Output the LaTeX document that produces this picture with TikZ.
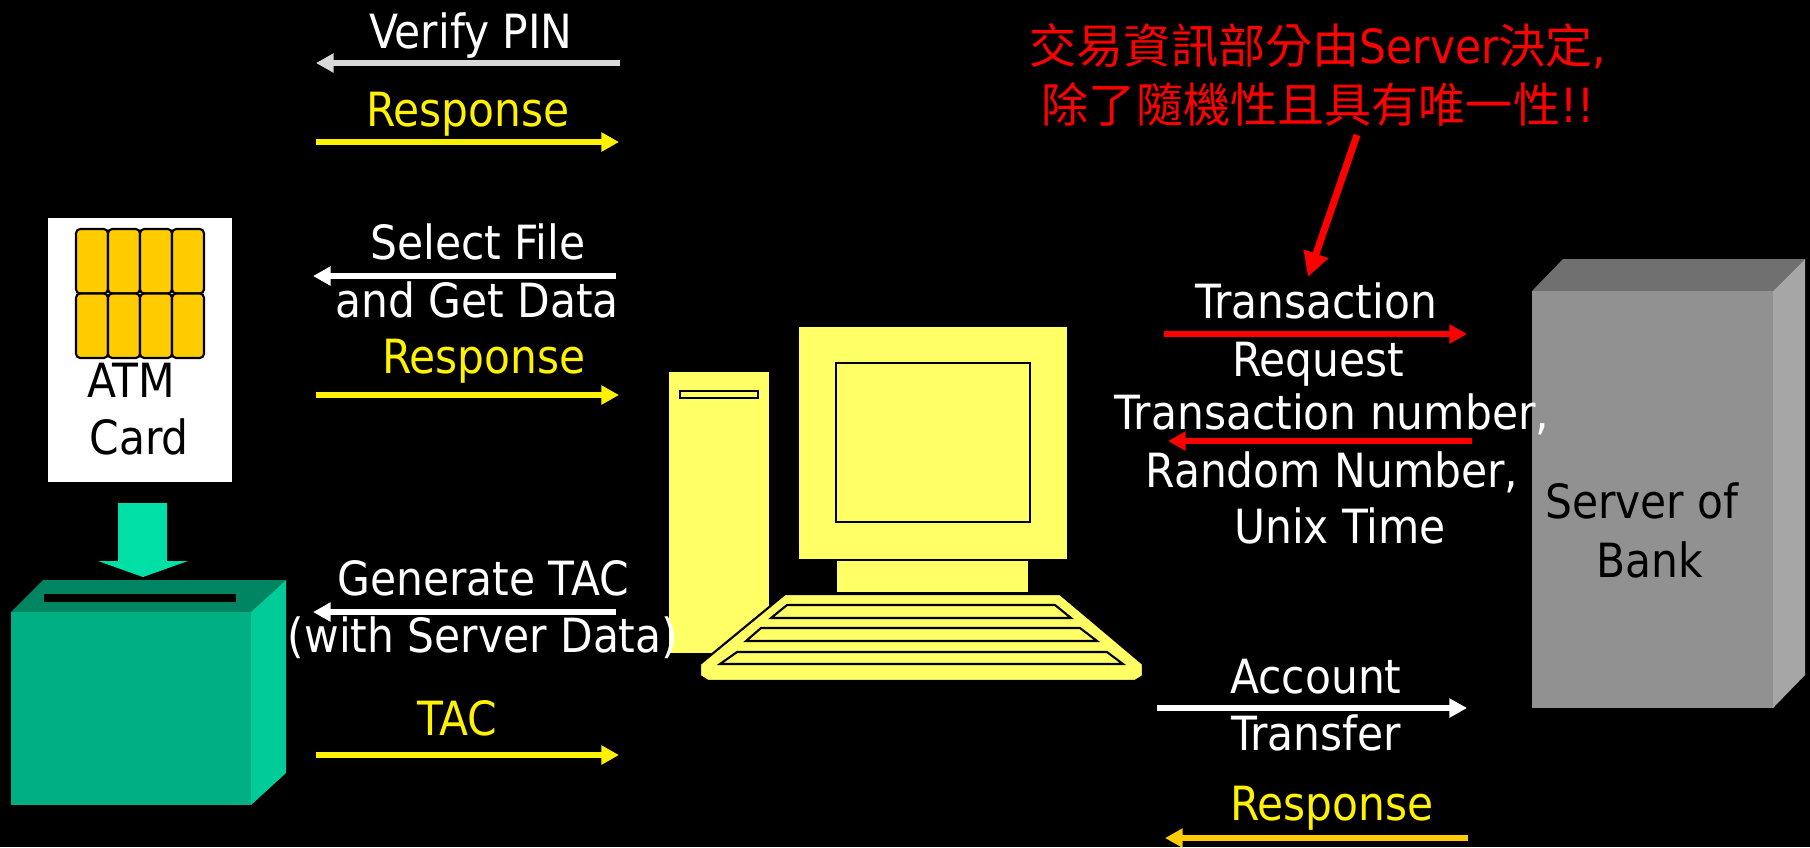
\documentclass[tikz,border=0pt]{standalone}
\usepackage{fontspec}
\setmainfont{DejaVu Sans Condensed}
\newfontfamily\cjk{Noto Sans CJK TC}
\usetikzlibrary{arrows.meta}

\definecolor{chipgold}{RGB}{255,204,0}
\definecolor{pcyellow}{RGB}{255,255,102}
\definecolor{atmfront}{RGB}{0,175,130}
\definecolor{atmtop}{RGB}{0,133,98}
\definecolor{atmside}{RGB}{0,204,153}
\definecolor{insert}{RGB}{0,224,166}
\definecolor{srvfront}{RGB}{145,145,145}
\definecolor{srvtop}{RGB}{112,112,112}
\definecolor{srvside}{RGB}{166,166,166}
\definecolor{pingray}{RGB}{217,217,217}
\definecolor{respgold}{RGB}{255,204,0}

\begin{document}
\begin{tikzpicture}[x=0.01cm,y=-0.01cm,
		lbl/.style={font=\fontsize{13.4}{16.4}\selectfont,text=white,inner sep=0pt,anchor=base},
		flow/.style={line width=1.7pt,-{Triangle[length=5pt,width=5.2pt]}},
		outl/.style={draw=black,line width=0.6pt,fill=pcyellow}]
	\useasboundingbox (0,0) rectangle (1810,847);
	\fill[black] (0,0) rectangle (1810,847);

	% card with its chip
	\fill[white] (48,218) rectangle (232,482);
	\foreach \c in {0,...,3}
		\foreach \r in {0,1}
			\draw[fill=chipgold,line width=0.6pt,rounded corners=1.2pt] ({76+32*\c},{229+64.5*\r}) rectangle ++(32,64.5);

	% card goes into the reader
	\fill[insert] (118,503) -- (167,503) -- (167,561) -- (188,561) -- (143,577) -- (98,561) -- (118,561) -- cycle;
	\fill[atmtop] (11,612) -- (43,580) -- (286,580) -- (251,612) -- cycle;
	\fill[atmside] (251,612) -- (286,580) -- (286,773) -- (251,805) -- cycle;
	\fill[atmfront] (11,612) rectangle (251,805);
	\fill[black] (44,594) rectangle (236,602);

	% terminal
	\fill[pcyellow] (669,372) rectangle (769,653);
	\draw[outl] (680,391) rectangle (758,398);
	\fill[pcyellow] (799,327) rectangle (1067,559);
	\draw[outl] (836,363) rectangle (1030,522);
	\fill[pcyellow] (837,561) rectangle (1028,592);
	\draw[outl] (785,594) -- (1060,594) -- (1143,664) -- (1143,676) -- (1135,681) -- (708,681) -- (700,676) -- (700,664) -- cycle;
	\draw[outl] (787,605) -- (1055,605) -- (1071,618) -- (771,618) -- cycle;
	\draw[outl] (761,628) -- (1080,628) -- (1097,641) -- (746,641) -- cycle;
	\draw[outl] (737,652) -- (1107,652) -- (1123,664) -- (720,664) -- cycle;

	% bank server
	\fill[srvtop] (1532,291) -- (1563,259) -- (1805,259) -- (1773,291) -- cycle;
	\fill[srvside] (1773,291) -- (1805,259) -- (1805,675) -- (1773,708) -- cycle;
	\fill[srvfront] (1532,291) rectangle (1773,708);

	% arrow ends
	\coordinate (pinR) at (620,63);		\coordinate (pinL) at (316,63);
	\coordinate (rsp1L) at (316,142);	\coordinate (rsp1R) at (619,142);
	\coordinate (selR) at (616,276);	\coordinate (selL) at (313,276);
	\coordinate (rsp2L) at (316,395);	\coordinate (rsp2R) at (619,395);
	\coordinate (genR) at (616,612);	\coordinate (genL) at (313,612);
	\coordinate (tacL) at (316,755);	\coordinate (tacR) at (619,755);
	\coordinate (reqL) at (1164,334);	\coordinate (reqR) at (1467,334);
	\coordinate (numR) at (1472,441);	\coordinate (numL) at (1168,441);
	\coordinate (accL) at (1157,708);	\coordinate (accR) at (1467,708);
	\coordinate (rsp3R) at (1468,838);	\coordinate (rsp3L) at (1165,838);
	\coordinate (noteT) at (1357,135);	\coordinate (noteH) at (1308,277);

	\draw[flow,pingray] (pinR) -- (pinL);
	\draw[flow,yellow] (rsp1L) -- (rsp1R);
	\draw[flow,white] (selR) -- (selL);
	\draw[flow,yellow] (rsp2L) -- (rsp2R);
	\draw[flow,white] (genR) -- (genL);
	\draw[flow,yellow] (tacL) -- (tacR);
	\draw[flow,red] (reqL) -- (reqR);
	\draw[flow,red] (numR) -- (numL);
	\draw[flow,white] (accL) -- (accR);
	\draw[flow,respgold] (rsp3R) -- (rsp3L);
	\draw[red,line width=2pt,-{Triangle[length=7pt,width=7pt]}] (noteT) -- (noteH);

	% labels
	\node[lbl,text=black] (atm) at (131,397) {ATM};
	\node[lbl,text=black] (card) at (139,454) {Card};
	\node[lbl,text=black] (srv1) at (1642,518) {Server of};
	\node[lbl,text=black] (srv2) at (1650,577) {Bank};

	\node[lbl] (vpin) at (471,48) {Verify PIN};
	\node[lbl,text=yellow] (rsp1) at (468,126) {Response};
	\node[lbl] (sel1) at (478,259) {Select File};
	\node[lbl] (sel2) at (477,317) {and Get Data};
	\node[lbl,text=yellow] (rsp2) at (484,373) {Response};
	\node[lbl] (gen1) at (483,595) {Generate TAC};
	\node[lbl] (gen2) at (483,652) {(with Server Data)};
	\node[lbl,text=yellow] (tac) at (457,735) {TAC};

	\node[lbl] (req1) at (1316,318) {Transaction};
	\node[lbl] (req2) at (1318,376) {Request};
	\node[lbl] (num1) at (1332,429) {Transaction number,};
	\node[lbl] (num2) at (1332,487) {Random Number,};
	\node[lbl] (num3) at (1340,543) {Unix Time};
	\node[lbl] (acc1) at (1316,693) {Account};
	\node[lbl] (acc2) at (1316,750) {Transfer};
	\node[lbl,text=yellow] (rsp3) at (1332,820) {Response};

	\node[lbl,text=red] (note1) at (1318,63) {{\cjk 交易資訊部分由}Server{\cjk 決定},};
	\node[lbl,text=red] (note2) at (1318,122) {{\cjk 除了隨機性且具有唯一性}!!};
\end{tikzpicture}
\end{document}
